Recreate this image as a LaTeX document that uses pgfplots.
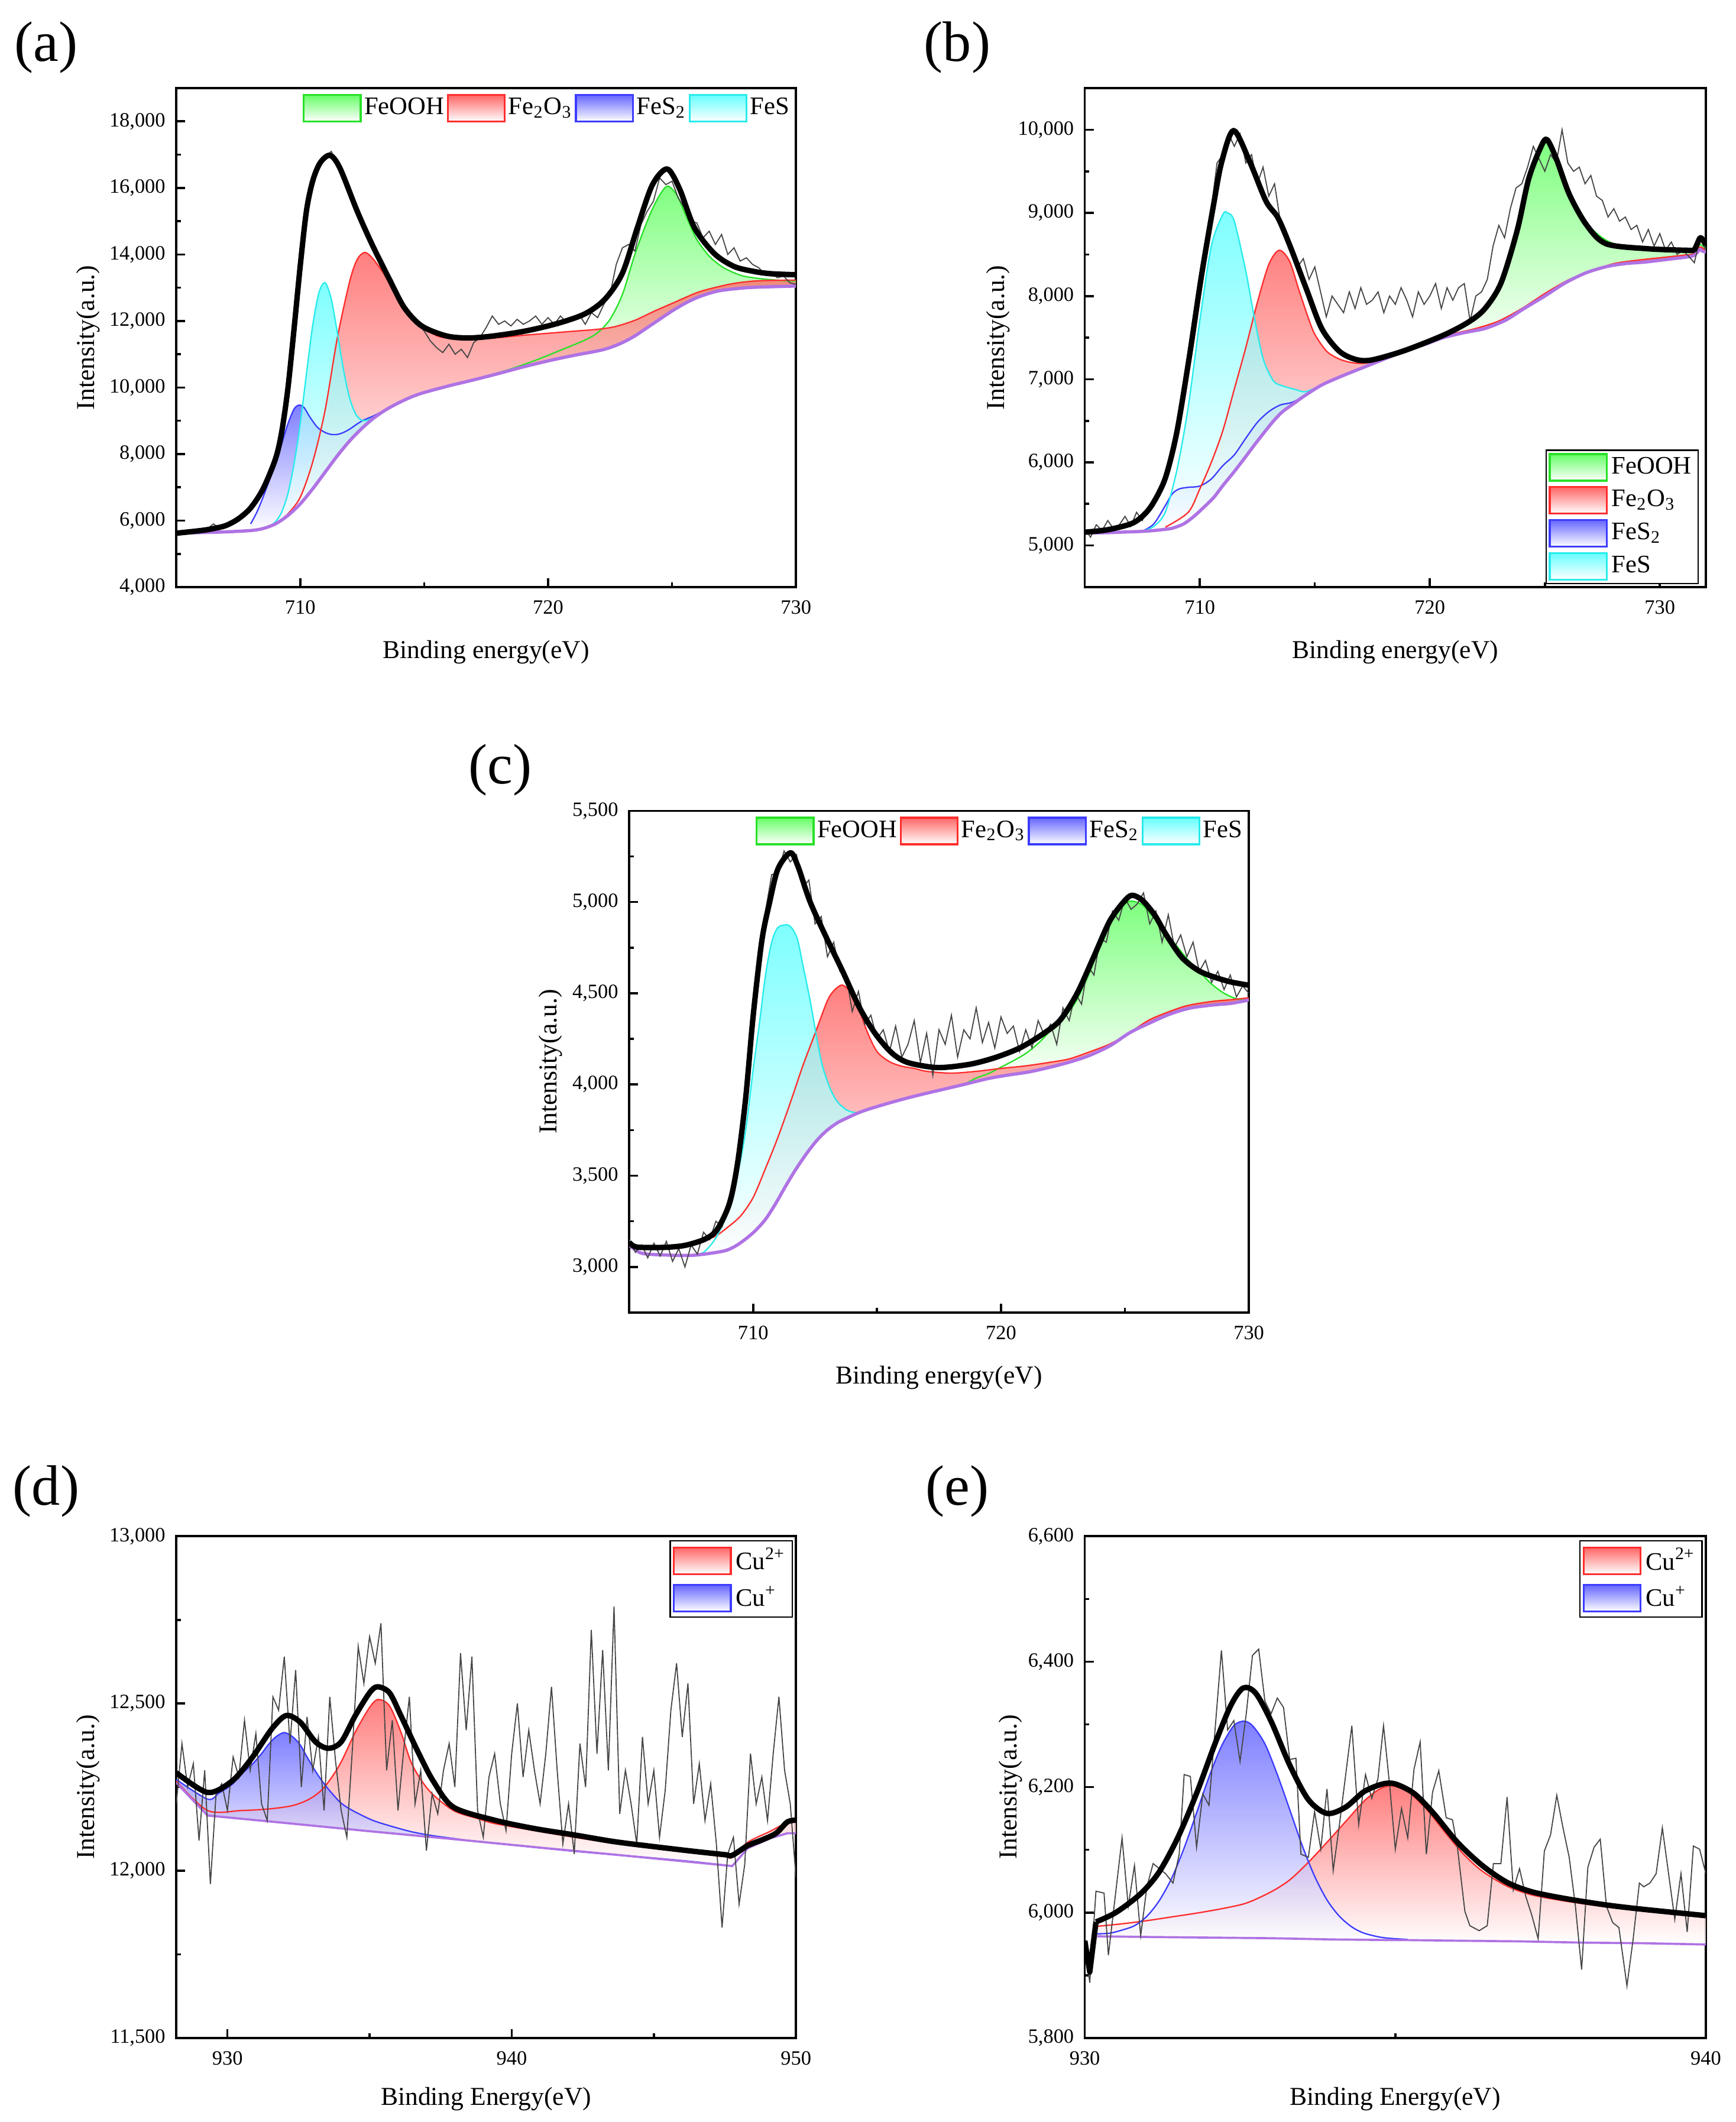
\documentclass[border=0pt]{standalone}
\usepackage{fontspec}
\setmainfont{Liberation Serif}
\usepackage{pgfplots}
\usepackage{pgfplotstable}
\pgfplotsset{compat=1.18}
\usepgfplotslibrary{fillbetween}

\definecolor{cgreen}{RGB}{0,255,0}
\definecolor{lgreen}{RGB}{40,225,40}
\definecolor{cred}{RGB}{255,0,0}
\definecolor{lred}{RGB}{255,45,45}
\definecolor{cblue}{RGB}{0,0,255}
\definecolor{lblue}{RGB}{60,60,255}
\definecolor{ccyan}{RGB}{0,255,255}
\definecolor{lcyan}{RGB}{40,235,235}
\definecolor{bgpurple}{RGB}{175,115,228}
\definecolor{rawgray}{RGB}{70,70,70}

\pgfplotsset{
  xps/.style={
    scale only axis, clip=true,
    axis line style={line width=0.8pt},
    tick align=inside, tick pos=left,
    major tick length=3.3pt, minor tick length=1.7pt,
    every tick/.append style={line width=0.8pt, black},
    minor tick num=1,
    tick label style={font=\fontsize{7.5}{9}\selectfont},
    xticklabel style={yshift=-1.5pt},
    yticklabel style={xshift=-0.5pt},
    label style={font=\fontsize{9.5}{11}\selectfont},
    scaled ticks=false,
    /pgf/number format/1000 sep={,},
    /pgf/number format/assume math mode=true,
    legend image code/.code={\draw[##1] (0pt,-4.9pt) rectangle (21pt,4.9pt);},
    legend cell align=left,
  },
  hidden/.style={smooth, draw=none, forget plot},
  comp/.style={smooth, line width=0.5pt, forget plot},
  fillc/.style={draw=none, fill=white, fill opacity=0.5, forget plot, top color=#1, bottom color=white},
  bgline/.style={smooth, bgpurple, line width=1.2pt, forget plot},
  rawline/.style={rawgray, line width=0.4pt, forget plot},
  envline/.style={smooth, black, line width=2pt, line join=round, forget plot},
  hleg/.style={legend style={at={(0.997,0.992)}, anchor=north east, draw=none, fill=none,
     legend columns=4, font=\fontsize{9.3}{11}\selectfont, inner sep=0.5pt,
     nodes={inner sep=1pt}, /tikz/every even column/.append style={column sep=0pt}}},
  vleg/.style={legend style={font=\fontsize{9.3}{11}\selectfont, draw=black, line width=0.5pt,
     fill=white, inner sep=1pt, row sep=1.5pt, nodes={inner sep=1.5pt}}},
}

% ---------------- panel (a) ----------------
\pgfplotstableread{
x y
705 5620
706 5640
707 5660
708 5700
708.5 5760
709 5900
709.5 6150
710 6500
710.5 6950
711 7450
711.5 7950
712 8400
712.5 8780
713 9100
713.5 9350
714 9550
714.5 9720
715 9850
716 10050
716.5 10140
717 10230
718 10420
719 10620
720 10800
721 10960
722 11100
722.5 11200
723 11350
723.5 11550
724 11800
724.5 12050
725 12300
725.5 12520
726 12700
726.5 12830
727 12920
728 13000
729 13030
730 13050
}\tAbg
\pgfplotstableread{
x y
708.5 5764
708.75 5837
709 5961
709.25 6250
709.5 6800
709.75 7700
710 8900
710.25 10400
710.5 11850
710.75 12838
711 13150
711.25 12671
711.5 11638
711.75 10515
712 9664
712.25 9184
712.5 9011
712.75 9028
713 9122
713.5 9350
}\tAfes
\pgfplotstableread{
x y
708 5900
708.25 6250
708.5 6700
708.75 7200
709 7700
709.25 8300
709.5 8900
709.75 9350
709.95 9470
710.15 9400
710.4 9100
710.7 8800
711 8650
711.25 8590
711.5 8590
711.75 8650
712 8750
712.25 8880
712.5 9000
712.75 9080
713 9160
713.5 9360
}\tAfesii
\pgfplotstableread{
x y
709 5900
709.5 6200
710 6700
710.5 7750
711 9300
711.5 11500
712 13200
712.3 13850
712.6 14060
712.9 13900
713.3 13500
713.6 13150
714 12700
714.5 12150
715 11800
715.5 11560
716 11480
717 11450
718 11500
719 11570
720 11630
721 11690
722 11750
722.7 11830
723.5 12020
724.3 12300
725.1 12560
726 12850
726.7 13000
727.5 13130
728.3 13200
729 13220
730 13230
}\tAfeo
\pgfplotstableread{
x y
716.5 10140
717.5 10340
718.5 10560
719.5 10820
720.5 11120
721.5 11430
722 11650
722.5 12050
723 12800
723.5 14000
724 15000
724.4 15650
724.8 16050
725.2 15780
725.6 15100
726 14450
726.5 13950
727 13640
727.5 13450
728 13330
729 13240
730 13200
}\tAfeooh
\pgfplotstableread{
x y
705 5620
706 5700
706.5 5760
707 5850
707.5 6050
708 6380
708.5 6950
709 7850
709.25 8650
709.5 9950
709.75 11750
710 13650
710.25 15300
710.5 16200
710.8 16750
711.2 16980
711.6 16600
712.3 15300
712.9 14300
713.6 13250
714.2 12400
714.9 11850
715.9 11550
716.8 11490
717.8 11550
719.1 11700
720.4 11930
721.5 12220
722.3 12660
723 13440
723.6 14800
724.2 16080
724.8 16570
725.3 15980
725.9 14810
726.7 14030
727.5 13640
728.3 13490
729 13420
730 13390
}\tAenv
\pgfplotstableread{
x y
705.00 5600
705.25 5650
705.50 5620
705.75 5700
706.00 5680
706.25 5750
706.50 5900
706.75 5760
707.00 5850
707.25 5900
707.50 6100
707.75 6150
708.00 6400
708.25 6620
708.50 7000
708.75 7400
709.00 7950
709.25 8900
709.50 10100
709.75 11700
710.00 13600
710.25 15300
710.50 16200
710.75 16700
711.00 16900
711.25 17100
711.50 16750
711.75 16300
712.00 15700
712.25 15450
712.50 14900
712.75 14400
713.00 14150
713.25 13800
713.50 13300
713.75 13150
714.00 12600
714.25 12350
714.50 12100
714.75 11900
715.00 11700
715.25 11400
715.50 11200
715.75 11050
716.00 11300
716.25 11000
716.50 11150
716.75 10900
717.00 11350
717.25 11500
717.50 11800
717.75 12150
718.00 11900
718.25 12000
718.50 11850
718.75 12050
719.00 11900
719.25 12000
719.50 12150
719.75 11900
720.00 12100
720.25 11900
720.50 12150
720.75 11950
721.00 12050
721.25 12200
721.50 11900
721.75 12250
722.00 12100
722.25 12500
722.50 12800
722.75 13700
723.00 14200
723.25 14300
723.50 14100
723.75 14900
724.00 15300
724.25 15600
724.50 16300
724.75 16100
725.00 16200
725.25 15700
725.50 15400
725.75 15000
726.00 14950
726.25 14500
726.50 14700
726.75 14300
727.00 14600
727.25 14000
727.50 14200
727.75 13800
728.00 13900
728.25 13700
728.50 13600
728.75 13400
729.00 13450
729.25 13300
729.50 13350
729.75 13150
730.00 13100
}\tAraw

% ---------------- panel (b) ----------------
\pgfplotstableread{
x y
705 5150
706 5155
707 5165
707.5 5170
708 5180
708.5 5195
708.83 5210
709.3 5260
709.7 5340
710.1 5440
710.6 5576
711 5720
711.5 5890
712 6070
712.35 6200
712.8 6360
713.2 6496
713.6 6610
714.1 6710
714.5 6790
715.3 6930
716.2 7040
717.1 7140
718 7240
718.5 7295
718.9 7340
719.8 7420
720.6 7500
721.5 7560
722.4 7610
723.3 7710
724.1 7850
725 8000
725.9 8160
726.8 8280
727.7 8355
728.5 8390
729.4 8410
730.3 8440
731.2 8470
731.5 8490
731.75 8560
731.85 8540
732 8530
}\tBbg
\pgfplotstableread{
x y
707.5 5172
708 5230
708.5 5400
709 5900
709.5 6670
710 7700
710.5 8600
711 8980
711.2 9000
711.5 8900
712 8300
712.35 7770
712.75 7250
713.2 6980
713.6 6920
714.1 6880
714.6 6850
715.3 6935
}\tBfes
\pgfplotstableread{
x y
707.5 5172
708 5260
708.5 5480
708.8 5620
709.1 5680
709.5 5700
710 5715
710.5 5800
711 5960
711.5 6090
712 6290
712.5 6480
713 6610
713.5 6690
714 6720
714.5 6790
}\tBfesii
\pgfplotstableread{
x y
708.5 5220
709.5 5400
710 5680
710.5 6000
711 6380
711.5 6880
712 7380
712.5 7920
713 8380
713.45 8550
713.9 8420
714.3 8080
714.7 7750
715 7540
715.5 7340
716 7250
716.5 7205
717 7190
717.5 7210
718 7265
718.5 7310
719 7370
720 7460
721 7545
722 7610
723 7700
724 7850
725 8030
726 8190
727 8300
728 8390
729 8430
730 8460
731 8490
731.5 8510
731.75 8590
732 8545
}\tBfeo
\pgfplotstableread{
x y
718.5 7310
719.5 7420
720.5 7530
721.5 7670
722 7760
722.5 7880
723 8120
723.5 8520
724 9050
724.5 9560
724.85 9780
725.1 9840
725.5 9690
726 9280
726.5 8980
727 8820
727.5 8700
728 8630
729 8560
730 8545
731 8540
731.5 8545
731.75 8620
732 8570
}\tBfeooh
\pgfplotstableread{
x y
705 5160
706 5190
707 5260
707.5 5350
707.95 5500
708.5 5810
709 6360
709.54 7260
710.07 8240
710.6 9100
710.95 9610
711.47 9990
712.18 9610
712.88 9140
713.4 8940
713.94 8590
714.64 8080
715.3 7610
716.05 7340
716.75 7240
717.45 7230
718.86 7340
720.6 7530
721.7 7690
722.4 7850
723.1 8160
723.8 8790
724.3 9410
724.84 9800
725.1 9880
725.5 9650
726.07 9220
726.8 8860
727.65 8630
729.4 8570
731.2 8550
731.5 8560
731.75 8700
731.9 8660
732 8620
}\tBenv
\pgfplotstableread{
x y
705.00 5200
705.25 5100
705.50 5250
705.75 5180
706.00 5300
706.25 5200
706.50 5250
706.75 5350
707.00 5230
707.25 5400
707.50 5300
707.75 5450
708.00 5480
708.25 5700
708.50 5800
708.75 6100
709.00 6350
709.25 6750
709.50 7250
709.75 7800
710.00 8200
710.25 8650
710.50 9050
710.75 9600
711.00 9700
711.25 9950
711.50 9800
711.75 9950
712.00 9600
712.25 9700
712.50 9350
712.75 9550
713.00 9200
713.25 9350
713.50 8900
713.75 8750
714.00 8600
714.25 8350
714.50 8450
714.75 8200
715.00 8350
715.25 8050
715.50 7750
715.75 8000
716.00 7900
716.25 7800
716.50 8050
716.75 7850
717.00 8100
717.25 7900
717.50 7950
717.75 8050
718.00 7800
718.25 8000
718.50 7900
718.75 8100
719.00 7950
719.25 7750
719.50 8050
719.75 7900
720.00 8000
720.25 8150
720.50 7850
720.75 8100
721.00 7950
721.25 8100
721.50 8150
721.75 7700
722.00 8000
722.25 8050
722.50 8200
722.75 8600
723.00 8850
723.25 8700
723.50 9050
723.75 9300
724.00 9350
724.25 9550
724.50 9800
724.75 9650
725.00 9500
725.25 9700
725.50 9600
725.75 10000
726.00 9600
726.25 9500
726.50 9550
726.75 9350
727.00 9450
727.25 9200
727.50 9150
727.75 8950
728.00 9050
728.25 8900
728.50 8950
728.75 8800
729.00 8850
729.25 8650
729.50 8800
729.75 8600
730.00 8750
730.25 8550
730.50 8650
730.75 8500
731.00 8550
731.25 8480
731.50 8400
731.75 8700
732.00 8550
}\tBraw

% ---------------- panel (c) ----------------
\pgfplotstableread{
x y
705 3120
705.5 3075
706.5 3065
707.5 3063
708.3 3075
708.9 3090
709.3 3115
709.7 3153
710.1 3200
710.5 3261
710.9 3345
711.3 3440
711.7 3530
712.15 3620
712.55 3690
712.95 3745
713.4 3790
713.8 3817
714.2 3842
714.6 3862
715.4 3895
716.2 3925
717 3952
717.85 3979
718.5 4000
719.5 4033
720.3 4052
721.1 4068
721.9 4092
722.75 4122
723.55 4158
724.4 4212
725.2 4284
726 4337
726.8 4385
727.6 4418
728.5 4435
729.3 4445
730 4463
}\tCbg
\pgfplotstableread{
x y
707.5 3063
708 3080
708.5 3160
709 3310
709.5 3590
709.75 3800
710 4080
710.25 4330
710.5 4600
710.75 4780
711 4860
711.38 4875
711.6 4850
711.8 4790
712 4660
712.3 4460
712.6 4230
712.8 4100
713.1 3980
713.4 3905
713.8 3858
714.2 3846
714.6 3863
}\tCfes
\pgfplotstableread{
x y
705 3125
706 3105
707 3110
707.5 3125
708 3145
708.5 3170
709 3220
709.5 3280
710 3380
710.5 3540
711 3710
711.5 3900
712 4100
712.5 4280
713 4460
713.3 4520
713.6 4545
713.9 4510
714.2 4440
714.6 4290
715 4180
715.5 4125
716 4100
716.5 4088
717 4072
718 4062
719 4072
720 4088
721 4102
722 4122
722.75 4140
723.5 4175
724.4 4222
725.2 4285
726 4355
727 4410
727.6 4435
728.5 4455
729.3 4465
730 4475
}\tCfeo
\pgfplotstableread{
x y
718.5 4000
719 4035
719.5 4060
720 4095
720.5 4130
721 4170
721.5 4225
722 4295
722.5 4360
723 4450
723.5 4590
724 4760
724.5 4910
725 4990
725.3 5005
725.7 4985
726 4940
726.5 4860
727 4775
727.5 4690
728 4620
728.5 4550
729 4500
729.5 4470
730 4460
}\tCfeooh
\pgfplotstableread{
x y
705 3136
705.3 3109
706.4 3107
707.25 3118
708.07 3153
708.56 3207
709.05 3350
709.37 3566
709.7 3925
710 4373
710.35 4786
710.67 5001
711 5181
711.5 5270
711.8 5199
712.3 5001
712.96 4804
713.6 4624
714.27 4427
714.9 4284
715.57 4176
716.2 4122
717.2 4095
717.85 4095
718.83 4113
719.8 4149
720.8 4203
721.77 4284
722.4 4355
723.07 4499
723.73 4696
724.38 4894
724.95 5001
725.28 5037
725.7 5010
726.2 4929
726.66 4822
727.3 4696
727.97 4624
728.6 4589
729.27 4562
730 4544
}\tCenv
\pgfplotstableread{
x y
705.00 3150
705.25 3080
705.50 3120
705.75 3050
706.00 3130
706.25 3060
706.50 3140
706.75 3030
707.00 3100
707.25 3000
707.50 3120
707.75 3070
708.00 3190
708.25 3150
708.50 3250
708.75 3220
709.00 3370
709.25 3480
709.50 3700
709.75 3950
710.00 4350
710.25 4720
710.50 4950
710.75 5150
711.00 5160
711.25 5280
711.50 5220
711.75 5260
712.00 5080
712.25 5120
712.50 4880
712.75 4920
713.00 4700
713.25 4780
713.50 4620
713.75 4600
714.00 4400
714.25 4510
714.50 4330
714.75 4380
715.00 4250
715.25 4300
715.50 4180
715.75 4320
716.00 4150
716.25 4220
716.50 4350
716.75 4120
717.00 4280
717.25 4050
717.50 4300
717.75 4220
718.00 4380
718.25 4150
718.50 4300
718.75 4250
719.00 4420
719.25 4230
719.50 4340
719.75 4200
720.00 4370
720.25 4280
720.50 4320
720.75 4180
721.00 4300
721.25 4200
721.50 4350
721.75 4270
722.00 4330
722.25 4220
722.50 4420
722.75 4350
723.00 4500
723.25 4440
723.50 4650
723.75 4600
724.00 4800
724.25 4780
724.50 4950
724.75 4900
725.00 5020
725.25 4960
725.50 4990
725.75 5050
726.00 4880
726.25 4950
726.50 4780
726.75 4930
727.00 4750
727.25 4820
727.50 4700
727.75 4780
728.00 4620
728.25 4680
728.50 4560
728.75 4620
729.00 4520
729.25 4600
729.50 4480
729.75 4540
730.00 4500
}\tCraw

% ---------------- panel (d) ----------------
\pgfplotstableread{
x y
928.2 12263
929.3 12165
932 12143
935 12118
938 12094
941 12069
944 12045
947.76 12014
948.3 12067
949.1 12097
949.7 12112
950 12112
}\tDbg
\pgfplotstableread{
x y
928.2 12273
929.3 12214
929.7 12232
930.16 12258
930.5 12290
930.86 12317
931.2 12350
931.43 12376
931.7 12400
932 12413
932.3 12400
932.56 12376
932.8 12340
933.1 12297
933.4 12260
933.7 12229
934 12202
934.4 12180
935.1 12151
935.8 12132
936.5 12116
937.2 12105
937.9 12097
938.6 12089
939.4 12082
940.8 12070
942.2 12058
943.6 12048
945 12038
946.4 12027
947.76 12014
}\tDcui
\pgfplotstableread{
x y
928.2 12268
929.3 12180
930.5 12180
931.5 12185
932.3 12195
932.9 12215
933.4 12249
933.95 12317
934.5 12415
935 12488
935.3 12512
935.7 12493
936.1 12415
936.5 12317
937.1 12239
937.95 12180
938.8 12156
939.4 12141
940.8 12120
942.2 12100
943.6 12082
945 12068
946.4 12053
947.5 12042
947.76 12040
948.3 12085
949.1 12118
949.7 12145
950 12148
}\tDcuii
\pgfplotstableread{
x y
928.2 12293
929.3 12234
930.16 12268
930.86 12337
931.57 12425
932.07 12464
932.56 12444
933.1 12385
933.55 12366
934 12385
934.5 12464
935 12532
935.28 12550
935.7 12532
936.1 12464
936.7 12356
937.24 12268
937.95 12190
939.4 12151
940.8 12126
942.2 12107
943.6 12087
945 12072
946.4 12058
947.5 12048
947.76 12046
948.3 12075
948.8 12092
949.3 12112
949.7 12146
950 12151
}\tDenv
\pgfplotstableread{
x y
928.2 12200
928.4 12380
928.6 12250
928.8 12320
929.0 12090
929.2 12300
929.4 11960
929.6 12230
929.8 12260
930.0 12180
930.2 12340
930.4 12280
930.6 12450
930.8 12300
931.0 12410
931.2 12200
931.4 12150
931.6 12520
931.8 12480
932.0 12640
932.2 12380
932.4 12600
932.6 12250
932.8 12460
933.0 12300
933.2 12400
933.4 12180
933.6 12520
933.8 12330
934.0 12180
934.2 12100
934.4 12370
934.6 12670
934.8 12560
935.0 12700
935.2 12620
935.4 12740
935.6 12300
935.8 12450
936.0 12180
936.2 12360
936.4 12520
936.6 12200
936.8 12300
937.0 12060
937.2 12230
937.4 12170
937.6 12300
937.8 12380
938.0 12250
938.2 12650
938.4 12420
938.6 12640
938.8 12180
939.0 12100
939.2 12280
939.4 12350
939.6 12200
939.8 12120
940.0 12350
940.2 12500
940.4 12280
940.6 12420
940.8 12300
941.0 12200
941.2 12350
941.4 12550
941.6 12300
941.8 12080
942.0 12200
942.2 12050
942.4 12380
942.6 12250
942.8 12720
943.0 12350
943.2 12660
943.4 12300
943.6 12790
943.8 12170
944.0 12300
944.2 12200
944.4 12080
944.6 12400
944.8 12200
945.0 12300
945.2 12100
945.4 12240
945.6 12480
945.8 12620
946.0 12400
946.2 12560
946.4 12200
946.6 12320
946.8 12150
947.0 12260
947.2 12080
947.4 11830
947.6 12050
947.8 12100
948.0 11900
948.2 12020
948.4 12350
948.6 12200
948.8 12280
949.0 12150
949.2 12350
949.4 12520
949.6 12300
949.8 12200
950.0 11980
}\tDraw

% ---------------- panel (e) ----------------
\pgfplotstableread{
x y
930.2 5962
931 5961
932 5960
933 5959
934 5957
935 5956
935.2 5956
936 5955
937 5954
938 5952
939 5951
940 5949
}\tEbg
\pgfplotstableread{
x y
930.2 5966
930.4 5967
930.6 5972
930.8 5979
931 5994
931.2 6019
931.4 6055
931.6 6103
931.8 6159
932 6216
932.2 6265
932.4 6298
932.56 6305
932.7 6298
932.9 6269
933.1 6220
933.3 6164
933.5 6107
933.7 6058
933.9 6020
934.1 5994
934.3 5977
934.5 5967
934.8 5960
935.2 5957
}\tEcui
\pgfplotstableread{
x y
930.2 5978
930.6 5982
931 5987
931.4 5993
931.8 5999
932.2 6006
932.6 6015
933 6033
933.3 6052
933.6 6080
933.9 6112
934.2 6145
934.5 6178
934.75 6197
934.95 6202
935.2 6193
935.5 6165
935.8 6128
936.1 6093
936.4 6066
936.8 6042
937.2 6028
937.75 6018
938.4 6009
939 6003
940 5994
}\tEcuii
\pgfplotstableread{
x y
930.18 5985
930.5 6000
930.9 6030
931.2 6065
931.5 6120
931.8 6190
932.1 6270
932.35 6330
932.55 6358
932.75 6350
933 6305
933.3 6235
933.6 6180
933.9 6158
934.2 6168
934.5 6193
934.8 6205
935 6205
935.3 6190
935.6 6160
936 6112
936.4 6075
936.8 6048
937.2 6033
937.75 6022
938.4 6012
939 6005
940 5995
}\tEenv
\pgfplotstableread{
x y
930 5955
930.08 5905
930.18 5985
}\tEjag
\pgfplotstableread{
x y
930.00 5953
930.08 5888
930.18 6034
930.31 6031
930.38 5932
930.60 6119
930.70 6010
930.80 6075
930.90 5963
931.00 6041
931.10 6078
931.30 6062
931.42 6047
931.52 6093
931.60 6220
931.70 6217
931.80 6104
931.90 6189
932.00 6171
932.20 6418
932.30 6291
932.40 6306
932.50 6241
932.60 6317
932.70 6410
932.80 6420
932.90 6337
933.00 6317
933.10 6342
933.20 6327
933.30 6244
933.40 6246
933.48 6093
933.60 6088
933.70 6161
933.80 6101
933.90 6197
934.00 6067
934.10 6140
934.30 6298
934.41 6140
934.52 6220
934.62 6182
934.72 6213
934.81 6298
934.91 6202
935.00 6101
935.10 6166
935.20 6119
935.30 6228
935.40 6272
935.50 6093
935.60 6192
935.70 6226
935.82 6151
935.92 6148
936.00 6104
936.12 6002
936.20 5979
936.35 5971
936.48 5979
936.58 6078
936.70 6078
936.80 6184
936.90 6036
937.00 6070
937.10 6026
937.20 5995
937.30 5958
937.40 6098
937.50 6124
937.60 6187
937.70 6135
937.80 6088
937.90 6010
938.00 5909
938.10 6072
938.20 6104
938.30 6117
938.40 6010
938.50 5984
938.60 5976
938.73 5883
938.83 5958
938.93 6047
939.00 6041
939.10 6047
939.20 6062
939.30 6135
939.40 6062
939.50 5989
939.60 6062
939.70 5969
939.80 6106
939.90 6101
940.00 6062
}\tEraw

\begin{document}
\begin{tikzpicture}
\path (0,0) rectangle (640pt,782.5pt);

\node[font=\fontsize{21}{24}\selectfont] at (17pt,765pt) {(a)};
\node[font=\fontsize{21}{24}\selectfont] at (353pt,765pt) {(b)};
\node[font=\fontsize{21}{24}\selectfont] at (184.5pt,498.5pt) {(c)};
\node[font=\fontsize{21}{24}\selectfont] at (17pt,232.5pt) {(d)};
\node[font=\fontsize{21}{24}\selectfont] at (353pt,232.5pt) {(e)};

% ===== (a) =====
\begin{axis}[xps, hleg, at={(65pt,566pt)}, anchor=south west, width=228.5pt, height=184pt,
  xmin=705, xmax=730, ymin=4000, ymax=19000,
  xtick={710,720,730}, ytick={4000,6000,...,18000},
  xlabel={Binding energy(eV)}, ylabel={Intensity(a.u.)},
  xlabel style={at={(axis description cs:0.5,-0.13)}, anchor=center},
  ylabel style={at={(axis description cs:-0.142,0.5)}, anchor=center}]
\addplot[hidden, name path=g] table {\tAfeooh};
\addplot[hidden, name path=bg1, restrict x to domain=716.4:730.1] table {\tAbg};
\addplot[fillc=cgreen] fill between[of=g and bg1];
\addplot[comp, lgreen] table {\tAfeooh};
\addplot[hidden, name path=b] table {\tAfesii};
\addplot[hidden, name path=bg2, restrict x to domain=707.9:713.6] table {\tAbg};
\addplot[fillc=cblue] fill between[of=b and bg2];
\addplot[comp, lblue] table {\tAfesii};
\addplot[hidden, name path=r] table {\tAfeo};
\addplot[hidden, name path=bg3, restrict x to domain=708.9:730.1] table {\tAbg};
\addplot[fillc=cred] fill between[of=r and bg3];
\addplot[comp, lred] table {\tAfeo};
\addplot[hidden, name path=c] table {\tAfes};
\addplot[hidden, name path=bg4, restrict x to domain=708.4:713.6] table {\tAbg};
\addplot[fillc=ccyan] fill between[of=c and bg4];
\addplot[comp, lcyan] table {\tAfes};
\addplot[bgline] table {\tAbg};
\addplot[rawline] table {\tAraw};
\addplot[envline] table {\tAenv};
\addlegendimage{draw=lgreen, line width=0.7pt, top color=cgreen, bottom color=white, fill opacity=0.6}
\addlegendentry{FeOOH}
\addlegendimage{draw=lred, line width=0.7pt, top color=cred, bottom color=white, fill opacity=0.6}
\addlegendentry{Fe\textsubscript{2}O\textsubscript{3}}
\addlegendimage{draw=lblue, line width=0.7pt, top color=cblue, bottom color=white, fill opacity=0.6}
\addlegendentry{FeS\textsubscript{2}}
\addlegendimage{draw=lcyan, line width=0.7pt, top color=ccyan, bottom color=white, fill opacity=0.6}
\addlegendentry{FeS}
\end{axis}

% ===== (b) =====
\begin{axis}[xps, vleg, at={(400pt,566pt)}, anchor=south west, width=229pt, height=184pt,
  xmin=705, xmax=732, ymin=4500, ymax=10500,
  xtick={710,720,730}, ytick={5000,6000,...,10000},
  xlabel={Binding energy(eV)}, ylabel={Intensity(a.u.)},
  xlabel style={at={(axis description cs:0.5,-0.13)}, anchor=center},
  ylabel style={at={(axis description cs:-0.14,0.5)}, anchor=center},
  legend style={at={(0.989,0.006)}, anchor=south east}]
\addplot[hidden, name path=g] table {\tBfeooh};
\addplot[hidden, name path=bg1, restrict x to domain=718.4:732.1] table {\tBbg};
\addplot[fillc=cgreen] fill between[of=g and bg1];
\addplot[comp, lgreen] table {\tBfeooh};
\addplot[hidden, name path=b] table {\tBfesii};
\addplot[hidden, name path=bg2, restrict x to domain=707.4:714.6] table {\tBbg};
\addplot[fillc=cblue] fill between[of=b and bg2];
\addplot[comp, lblue] table {\tBfesii};
\addplot[hidden, name path=r] table {\tBfeo};
\addplot[hidden, name path=bg3, restrict x to domain=708.4:732.1] table {\tBbg};
\addplot[fillc=cred] fill between[of=r and bg3];
\addplot[comp, lred] table {\tBfeo};
\addplot[hidden, name path=c] table {\tBfes};
\addplot[hidden, name path=bg4, restrict x to domain=707.4:715.4] table {\tBbg};
\addplot[fillc=ccyan] fill between[of=c and bg4];
\addplot[comp, lcyan] table {\tBfes};
\addplot[bgline] table {\tBbg};
\addplot[rawline] table {\tBraw};
\addplot[envline] table {\tBenv};
\addlegendimage{draw=lgreen, line width=0.7pt, top color=cgreen, bottom color=white, fill opacity=0.6}
\addlegendentry{FeOOH}
\addlegendimage{draw=lred, line width=0.7pt, top color=cred, bottom color=white, fill opacity=0.6}
\addlegendentry{Fe\textsubscript{2}O\textsubscript{3}}
\addlegendimage{draw=lblue, line width=0.7pt, top color=cblue, bottom color=white, fill opacity=0.6}
\addlegendentry{FeS\textsubscript{2}}
\addlegendimage{draw=lcyan, line width=0.7pt, top color=ccyan, bottom color=white, fill opacity=0.6}
\addlegendentry{FeS}
\end{axis}

% ===== (c) =====
\begin{axis}[xps, hleg, at={(232pt,298.5pt)}, anchor=south west, width=228.5pt, height=185pt,
  xmin=705, xmax=730, ymin=2750, ymax=5500,
  xtick={710,720,730}, ytick={3000,3500,...,5500},
  xlabel={Binding energy(eV)}, ylabel={Intensity(a.u.)},
  xlabel style={at={(axis description cs:0.5,-0.13)}, anchor=center},
  ylabel style={at={(axis description cs:-0.127,0.5)}, anchor=center}]
\addplot[hidden, name path=g] table {\tCfeooh};
\addplot[hidden, name path=bg1, restrict x to domain=718.4:730.1] table {\tCbg};
\addplot[fillc=cgreen] fill between[of=g and bg1];
\addplot[comp, lgreen] table {\tCfeooh};
\addplot[hidden, name path=r] table {\tCfeo};
\addplot[hidden, name path=bg3] table {\tCbg};
\addplot[fillc=cred] fill between[of=r and bg3];
\addplot[comp, lred] table {\tCfeo};
\addplot[hidden, name path=c] table {\tCfes};
\addplot[hidden, name path=bg4, restrict x to domain=707.4:714.7] table {\tCbg};
\addplot[fillc=ccyan] fill between[of=c and bg4];
\addplot[comp, lcyan] table {\tCfes};
\addplot[bgline] table {\tCbg};
\addplot[rawline] table {\tCraw};
\addplot[envline] table {\tCenv};
\addlegendimage{draw=lgreen, line width=0.7pt, top color=cgreen, bottom color=white, fill opacity=0.6}
\addlegendentry{FeOOH}
\addlegendimage{draw=lred, line width=0.7pt, top color=cred, bottom color=white, fill opacity=0.6}
\addlegendentry{Fe\textsubscript{2}O\textsubscript{3}}
\addlegendimage{draw=lblue, line width=0.7pt, top color=cblue, bottom color=white, fill opacity=0.6}
\addlegendentry{FeS\textsubscript{2}}
\addlegendimage{draw=lcyan, line width=0.7pt, top color=ccyan, bottom color=white, fill opacity=0.6}
\addlegendentry{FeS}
\end{axis}

% ===== (d) =====
\begin{axis}[xps, vleg, at={(65pt,31pt)}, anchor=south west, width=228.5pt, height=185pt,
  xmin=928.2, xmax=950, ymin=11500, ymax=13000,
  xtick={930,940,950}, ytick={11500,12000,...,13000},
  xlabel={Binding Energy(eV)}, ylabel={Intensity(a.u.)},
  xlabel style={at={(axis description cs:0.5,-0.122)}, anchor=center},
  ylabel style={at={(axis description cs:-0.142,0.5)}, anchor=center},
  legend style={at={(0.995,0.992)}, anchor=north east}]
\addplot[hidden, name path=r] table {\tDcuii};
\addplot[draw=none, forget plot, name path=bg1] table {\tDbg};
\addplot[fillc=cred] fill between[of=r and bg1];
\addplot[comp, lred] table {\tDcuii};
\addplot[hidden, name path=b] table {\tDcui};
\addplot[draw=none, forget plot, name path=bg2, restrict x to domain=928.1:947.8] table {\tDbg};
\addplot[fillc=cblue] fill between[of=b and bg2];
\addplot[comp, lblue] table {\tDcui};
\addplot[bgpurple, line width=0.8pt, forget plot] table {\tDbg};
\addplot[rawline] table {\tDraw};
\addplot[envline] table {\tDenv};
\addlegendimage{draw=lred, line width=0.7pt, top color=cred, bottom color=white, fill opacity=0.6}
\addlegendentry{Cu\textsuperscript{2+}}
\addlegendimage{draw=lblue, line width=0.7pt, top color=cblue, bottom color=white, fill opacity=0.6}
\addlegendentry{Cu\textsuperscript{+}}
\end{axis}

% ===== (e) =====
\begin{axis}[xps, vleg, at={(400pt,31pt)}, anchor=south west, width=229pt, height=185pt,
  xmin=930, xmax=940, ymin=5800, ymax=6600,
  xtick={930,940}, ytick={5800,6000,...,6600},
  xlabel={Binding Energy(eV)}, ylabel={Intensity(a.u.)},
  xlabel style={at={(axis description cs:0.5,-0.122)}, anchor=center},
  ylabel style={at={(axis description cs:-0.12,0.5)}, anchor=center},
  legend style={at={(0.995,0.992)}, anchor=north east}]
\addplot[hidden, name path=r] table {\tEcuii};
\addplot[draw=none, forget plot, name path=bg1] table {\tEbg};
\addplot[fillc=cred] fill between[of=r and bg1];
\addplot[comp, lred] table {\tEcuii};
\addplot[hidden, name path=b] table {\tEcui};
\addplot[draw=none, forget plot, name path=bg2, restrict x to domain=930.1:935.3] table {\tEbg};
\addplot[fillc=cblue] fill between[of=b and bg2];
\addplot[comp, lblue] table {\tEcui};
\addplot[bgpurple, line width=0.8pt, forget plot] table {\tEbg};
\addplot[rawline] table {\tEraw};
\addplot[envline] table {\tEenv};
\addplot[black, line width=2pt, line join=round, forget plot] table {\tEjag};
\addlegendimage{draw=lred, line width=0.7pt, top color=cred, bottom color=white, fill opacity=0.6}
\addlegendentry{Cu\textsuperscript{2+}}
\addlegendimage{draw=lblue, line width=0.7pt, top color=cblue, bottom color=white, fill opacity=0.6}
\addlegendentry{Cu\textsuperscript{+}}
\end{axis}
\end{tikzpicture}
\end{document}
